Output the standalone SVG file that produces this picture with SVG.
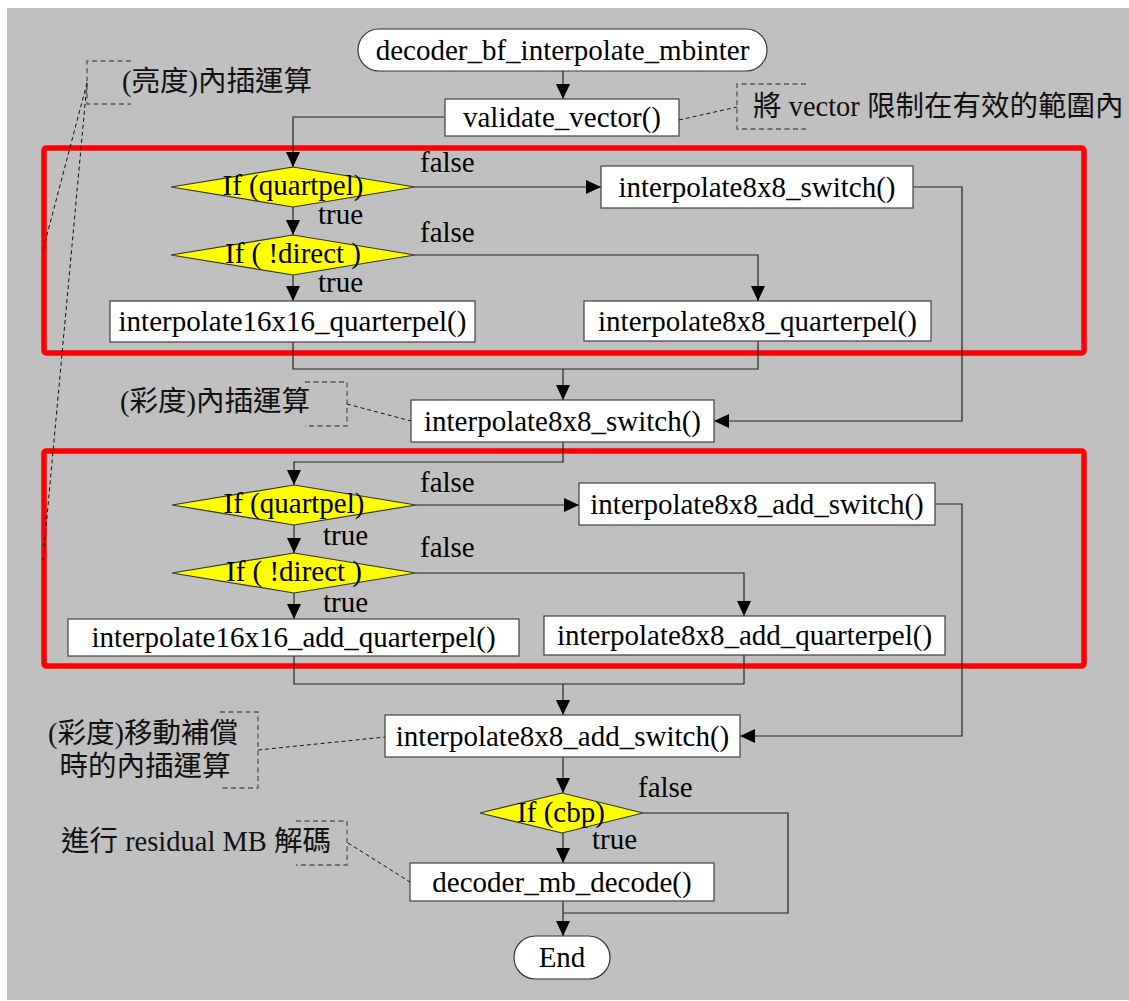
<svg xmlns="http://www.w3.org/2000/svg" width="1129" height="1001" viewBox="0 0 1129 1001">
  <style>
    .t { font-family: "Liberation Serif", "Noto Sans CJK TC", serif; font-size: 29px; fill: #000; }
    .c { text-anchor: middle; }
    .note { font-family: "Liberation Serif", "Noto Sans CJK TC", serif; font-size: 28.5px; fill: #111; }
    .box { fill: #fff; stroke: #404040; stroke-width: 1.2; }
    .dia { fill: #ffff00; stroke: #333; stroke-width: 1.2; }
    .term { fill: #fff; stroke: #333; stroke-width: 1.2; }
    .frame { fill: none; stroke: #ff0000; stroke-width: 5.5; }
    .wire { fill: none; stroke: #222; stroke-width: 1.2; }
    .arr { marker-end: url(#ah); }
    .brk { fill: none; stroke: #555; stroke-width: 1.3; stroke-dasharray: 5 3.5; }
    .lead { fill: none; stroke: #111; stroke-width: 1; stroke-dasharray: 4 3; }
  </style>
  <defs>
    <marker id="ah" markerUnits="userSpaceOnUse" markerWidth="15" markerHeight="14" refX="15" refY="7" orient="auto">
      <path d="M0,0 L15,7 L0,14 Z" fill="#000"/>
    </marker>
  </defs>

  <!-- canvas -->
  <rect x="7" y="8" width="1122" height="992" fill="#c0c0c0"/>

  <!-- highlighted regions -->
  <rect class="frame" x="44" y="148" width="1040" height="205" rx="2"/>
  <rect class="frame" x="44" y="451" width="1040" height="215" rx="2"/>

  <!-- connectors -->
  <g id="connectors">
    <path class="wire arr" d="M563,71 V99"/>
    <path class="wire arr" d="M445,117 H293 V167"/>
    <path class="wire arr" d="M415,187 H601"/>
    <path class="wire arr" d="M293,207 V235"/>
    <path class="wire arr" d="M415,255 H758 V301"/>
    <path class="wire arr" d="M293,275 V301"/>
    <path class="wire" d="M293,342 V369 H758 V341"/>
    <path class="wire arr" d="M563,369 V400"/>
    <path class="wire arr" d="M913,187 H962 V421 H714"/>
    <path class="wire arr" d="M563,442 V462 H294 V485"/>
    <path class="wire arr" d="M416,505 H579"/>
    <path class="wire arr" d="M294,525 V553"/>
    <path class="wire arr" d="M416,573 H744 V616"/>
    <path class="wire arr" d="M294,593 V619"/>
    <path class="wire" d="M294,656 V684 H744 V655"/>
    <path class="wire arr" d="M563,684 V715"/>
    <path class="wire arr" d="M935,504 H962 V736 H740"/>
    <path class="wire arr" d="M563,757 V793"/>
    <path class="wire arr" d="M563,833 V863"/>
    <path class="wire" d="M643,813 H788 V913 H563"/>
    <path class="wire arr" d="M563,901 V936"/>
  </g>

  <!-- branch labels -->
  <g id="labels">
    <text class="t" x="420" y="172">false</text>
    <text class="t" x="318" y="224">true</text>
    <text class="t" x="420" y="242">false</text>
    <text class="t" x="318" y="292">true</text>
    <text class="t" x="420" y="492">false</text>
    <text class="t" x="323" y="545">true</text>
    <text class="t" x="420" y="557">false</text>
    <text class="t" x="323" y="612">true</text>
    <text class="t" x="638" y="797">false</text>
    <text class="t" x="592" y="849">true</text>
  </g>

  <!-- nodes -->
  <g id="start">
    <rect class="term" x="358" y="29" width="409" height="42" rx="21"/>
    <text class="t c" x="562.5" y="59.5">decoder_bf_interpolate_mbinter</text>
  </g>
  <g id="validate">
    <rect class="box" x="445" y="99" width="234" height="37"/>
    <text class="t c" x="562" y="127">validate_vector()</text>
  </g>
  <g id="dec-quartpel-1">
    <polygon class="dia" points="171,187 293,167 415,187 293,207"/>
    <text class="t c" x="293" y="195">If (quartpel)</text>
  </g>
  <g id="switch-1">
    <rect class="box" x="601" y="166" width="312" height="42"/>
    <text class="t c" x="757" y="196.5">interpolate8x8_switch()</text>
  </g>
  <g id="dec-direct-1">
    <polygon class="dia" points="171,255 293,235 415,255 293,275"/>
    <text class="t c" x="293" y="263">If ( !direct )</text>
  </g>
  <g id="qpel16-1">
    <rect class="box" x="110" y="301" width="365" height="41"/>
    <text class="t c" x="292.5" y="331">interpolate16x16_quarterpel()</text>
  </g>
  <g id="qpel8-1">
    <rect class="box" x="584" y="301" width="347" height="40"/>
    <text class="t c" x="757.5" y="330.5">interpolate8x8_quarterpel()</text>
  </g>
  <g id="switch-2">
    <rect class="box" x="411" y="400" width="303" height="42"/>
    <text class="t c" x="562.5" y="430.5">interpolate8x8_switch()</text>
  </g>
  <g id="dec-quartpel-2">
    <polygon class="dia" points="172,505 294,485 416,505 294,525"/>
    <text class="t c" x="294" y="513">If (quartpel)</text>
  </g>
  <g id="add-switch-1">
    <rect class="box" x="579" y="483" width="356" height="42"/>
    <text class="t c" x="757" y="513.5">interpolate8x8_add_switch()</text>
  </g>
  <g id="dec-direct-2">
    <polygon class="dia" points="172,573 294,553 416,573 294,593"/>
    <text class="t c" x="294" y="581">If ( !direct )</text>
  </g>
  <g id="add-qpel16">
    <rect class="box" x="68" y="619" width="451" height="37"/>
    <text class="t c" x="293.5" y="647">interpolate16x16_add_quarterpel()</text>
  </g>
  <g id="add-qpel8">
    <rect class="box" x="544" y="616" width="401" height="39"/>
    <text class="t c" x="744.5" y="645">interpolate8x8_add_quarterpel()</text>
  </g>
  <g id="add-switch-2">
    <rect class="box" x="385" y="715" width="355" height="42"/>
    <text class="t c" x="562.5" y="745.5">interpolate8x8_add_switch()</text>
  </g>
  <g id="dec-cbp">
    <polygon class="dia" points="480,813 562,793 643,813 562,833"/>
    <text class="t c" x="561" y="822">If (cbp)</text>
  </g>
  <g id="mb-decode">
    <rect class="box" x="410" y="863" width="304" height="38"/>
    <text class="t c" x="562" y="891.5">decoder_mb_decode()</text>
  </g>
  <g id="end">
    <rect class="term" x="514" y="936" width="96" height="43" rx="21.5"/>
    <text class="t c" x="562" y="967">End</text>
  </g>

  <!-- annotations -->
  <g id="note-luma">
    <path class="brk" d="M131,61 H87 V104 H131"/>
    <path class="lead" d="M87,83 L43,250 M87,83 L43,560"/>
    <text class="note" x="122" y="91">(亮度)內插運算</text>
  </g>
  <g id="note-vector">
    <path class="brk" d="M806,84 H737 V129 H806"/>
    <path class="lead" d="M679,120 L737,107"/>
    <text class="note" x="753" y="116">將 vector 限制在有效的範圍內</text>
  </g>
  <g id="note-chroma">
    <path class="brk" d="M305,382 H347 V426 H305"/>
    <path class="lead" d="M347,404 L411,421"/>
    <text class="note" x="120" y="411">(彩度)內插運算</text>
  </g>
  <g id="note-chroma-mc">
    <path class="brk" d="M220,712 H258 V788 H220"/>
    <path class="lead" d="M258,750 L385,737"/>
    <text class="note c" x="143" y="743">(彩度)移動補償</text>
    <text class="note c" x="145" y="776">時的內插運算</text>
  </g>
  <g id="note-residual">
    <path class="brk" d="M296,821 H347 V865 H296"/>
    <path class="lead" d="M348,843 L410,882"/>
    <text class="note" x="61" y="851">進行 residual MB 解碼</text>
  </g>
</svg>
